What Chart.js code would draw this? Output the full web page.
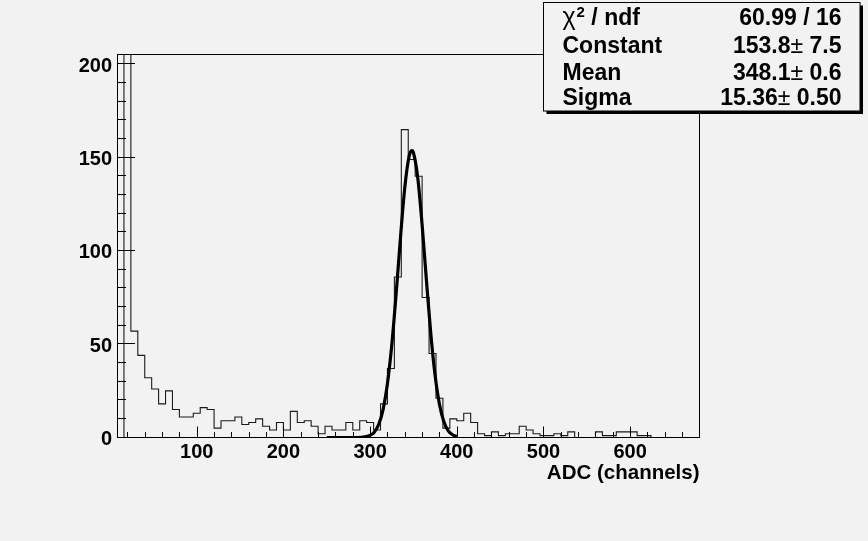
<!DOCTYPE html>
<html><head><meta charset="utf-8">
<script src="https://cdn.jsdelivr.net/npm/chart.js@4.4.0/dist/chart.umd.min.js"></script>
<style>html,body{margin:0;padding:0;background:#f2f2f2;overflow:hidden}#wrap{width:868px;height:541px;position:relative}</style>
</head><body><div id="wrap"><canvas id="c" width="868" height="541"></canvas></div>
<script>
// ---- data ----
const X_MIN = 8, X_MAX = 680, BIN_WIDTH = 8;
const Y_MIN = 0, Y_MAX = 205.5;
// counts per 8-channel bin, starting at channel 8 (second bin is off scale)
const binCounts = [
  0, 1500, 57, 44, 32, 26, 18, 25, 15, 11, 11, 13, 16, 15, 5, 9,
  9, 11, 7, 8, 10, 6, 4, 8, 4, 14, 8, 9, 6, 2, 6, 4,
  4, 8, 4, 9, 8, 4, 18, 37, 86, 165, 149, 140, 75, 45, 21, 5,
  10, 9, 13, 8, 2, 1, 3, 1, 2, 2, 6, 4, 2, 1, 1, 2,
  1, 3, 0, 0, 0, 3, 1, 1, 3, 3, 3, 1, 1, 0, 0, 0,
  0, 0, 0, 0
];
// gaussian fit curve
const fitX = [250, 280, 290, 300, 305, 310, 315, 320, 325, 330, 335, 340, 345, 348, 350, 355, 360, 365, 370, 375, 380, 385, 390, 395, 400];
const fitY = [0, 0, 0.1, 1.1, 3.0, 7.1, 15.1, 28.9, 49.6, 76.8, 106.9, 133.9, 150.7, 153.8, 152.6, 139.0, 113.9, 84.0, 55.7, 33.2, 17.8, 8.6, 3.7, 1.5, 0.5];
const xTickValues = [100, 200, 300, 400, 500, 600];
const yTickValues = [0, 50, 100, 150, 200];
const xTitle = 'ADC (channels)';
const statsLabels = ['χ2 / ndf', 'Constant', 'Mean', 'Sigma'];
const statsMain = ['60.99 / 16', '153.8', '348.1', '15.36'];
const statsErr = [null, '7.5', '0.6', '0.50'];

// ---- build library structures ----
const histPoints = binCounts.map((v, i) => ({x: X_MIN + i * BIN_WIDTH, y: v}));
histPoints.push({x: X_MAX, y: binCounts[binCounts.length - 1]});
const fitPoints = fitX.map((x, i) => ({x, y: fitY[i]}));

const BG = '#f2f2f2';
const FONT = "'Liberation Sans', Arial, Helvetica, sans-serif";
const AREA = {left: 117, right: 699.5, top: 54, bottom: 437.5};

const decor = {
  id: 'decor',
  beforeDraw(chart) {
    const ctx = chart.ctx;
    ctx.save();
    ctx.fillStyle = BG;
    ctx.fillRect(0, 0, chart.width, chart.height);
    ctx.restore();
  },
  afterDatasetsDraw(chart) {
    const ctx = chart.ctx, a = chart.chartArea;
    const xs = chart.scales.x, ys = chart.scales.y;
    ctx.save();
    ctx.strokeStyle = '#000';
    ctx.lineWidth = 1;
    ctx.strokeRect(Math.round(a.left) + 0.5, Math.round(a.top) + 0.5, Math.round(a.right - a.left) - 1, Math.round(a.bottom - a.top) - 1);
    ctx.beginPath();
    ctx.moveTo(a.left, Math.round(a.bottom) - 0.5); ctx.lineTo(a.right, Math.round(a.bottom) - 0.5);
    ctx.stroke();
    // x ticks (inside, from bottom)
    ctx.beginPath();
    for (let v = 20; v < X_MAX; v += 20) {
      const px = Math.round(xs.getPixelForValue(v)) + 0.5;
      const len = (v % 100 === 0) ? 11 : 5.5;
      ctx.moveTo(px, a.bottom); ctx.lineTo(px, a.bottom - len);
    }
    // y ticks (inside, from left)
    for (let v = 0; v <= 200; v += 10) {
      const py = Math.round(ys.getPixelForValue(v)) - 0.5;
      const len = (v % 50 === 0) ? 18 : 9;
      ctx.moveTo(a.left, py); ctx.lineTo(a.left + len, py);
    }
    ctx.stroke();
    ctx.restore();
  },
  afterDraw(chart) {
    const ctx = chart.ctx;
    const bx = 543.5, by = 2.5, bw = 316.5, bh = 108.5;
    ctx.save();
    ctx.fillStyle = '#000';
    ctx.fillRect(bx + 3, by + 3, bw, bh);
    ctx.fillStyle = BG;
    ctx.fillRect(bx, by, bw, bh);
    ctx.strokeStyle = '#000';
    ctx.lineWidth = 1;
    ctx.strokeRect(bx, by, bw, bh);
    const baselines = [25, 52.5, 79.5, 104.5];
    const big = 'bold 23px ' + FONT;
    ctx.fillStyle = '#000';
    ctx.textBaseline = 'alphabetic';
    statsLabels.forEach((lab, i) => {
      const y = baselines[i];
      let x = 562.5;
      ctx.textAlign = 'left';
      if (lab.startsWith('χ2')) {
        ctx.font = 'normal 25px ' + FONT;
        ctx.fillText('χ', x, y); x += ctx.measureText('χ').width + 1;
        ctx.font = 'bold 15px ' + FONT;
        ctx.fillText('2', x, y - 8); x += ctx.measureText('2').width;
        ctx.font = big;
        ctx.fillText(lab.slice(2), x, y);
      } else {
        ctx.font = big;
        ctx.fillText(lab, x, y);
      }
      const xr = 841.5;
      ctx.font = big;
      if (statsErr[i] === null) {
        ctx.textAlign = 'right';
        ctx.fillText(statsMain[i], xr, y);
      } else {
        const errTxt = ' ' + statsErr[i];
        const wErr = ctx.measureText(errTxt).width;
        ctx.font = 'normal 23px ' + FONT;
        const wPm = ctx.measureText('±').width;
        ctx.textAlign = 'right';
        ctx.font = big;
        ctx.fillText(errTxt, xr, y);
        ctx.font = 'normal 23px ' + FONT;
        ctx.fillText('±', xr - wErr, y);
        ctx.font = big;
        ctx.fillText(statsMain[i], xr - wErr - wPm, y);
      }
    });
    ctx.restore();
  }
};

const tickFont = {family: FONT, size: 20, weight: 'bold'};
new Chart(document.getElementById('c'), {
  type: 'line',
  data: {
    datasets: [
      {label: 'fit', data: fitPoints, borderColor: '#000', borderWidth: 3.2, pointRadius: 0,
       cubicInterpolationMode: 'monotone', fill: false},
      {label: 'hist', data: histPoints, stepped: 'before', borderColor: '#1a1a1a', borderWidth: 1.1,
       pointRadius: 0, fill: false, clip: 0}
    ]
  },
  options: {
    responsive: false, animation: false, devicePixelRatio: 1,
    layout: {padding: {left: 0, top: AREA.top, right: 868 - AREA.right, bottom: 0}},
    plugins: {legend: {display: false}, tooltip: {enabled: false}},
    scales: {
      x: {
        type: 'linear', min: X_MIN, max: X_MAX,
        afterBuildTicks: s => { s.ticks = xTickValues.map(v => ({value: v})); },
        afterFit: s => { s.height = 541 - AREA.bottom; },
        grid: {display: false, drawTicks: false}, border: {display: false},
        ticks: {font: tickFont, color: '#000', padding: 3, maxRotation: 0, autoSkip: false},
        title: {display: true, text: xTitle, align: 'end', color: '#000', font: {family: FONT, size: 20.5, weight: 'bold'}, padding: {top: 0, bottom: 55}}
      },
      y: {
        type: 'linear', min: Y_MIN, max: Y_MAX,
        afterBuildTicks: s => { s.ticks = yTickValues.map(v => ({value: v})); },
        afterFit: s => { s.width = AREA.left; },
        grid: {display: false, drawTicks: false}, border: {display: false},
        ticks: {font: tickFont, color: '#000', padding: 5, autoSkip: false, labelOffset: 2}
      }
    }
  },
  plugins: [decor]
});
</script>
</body></html>
